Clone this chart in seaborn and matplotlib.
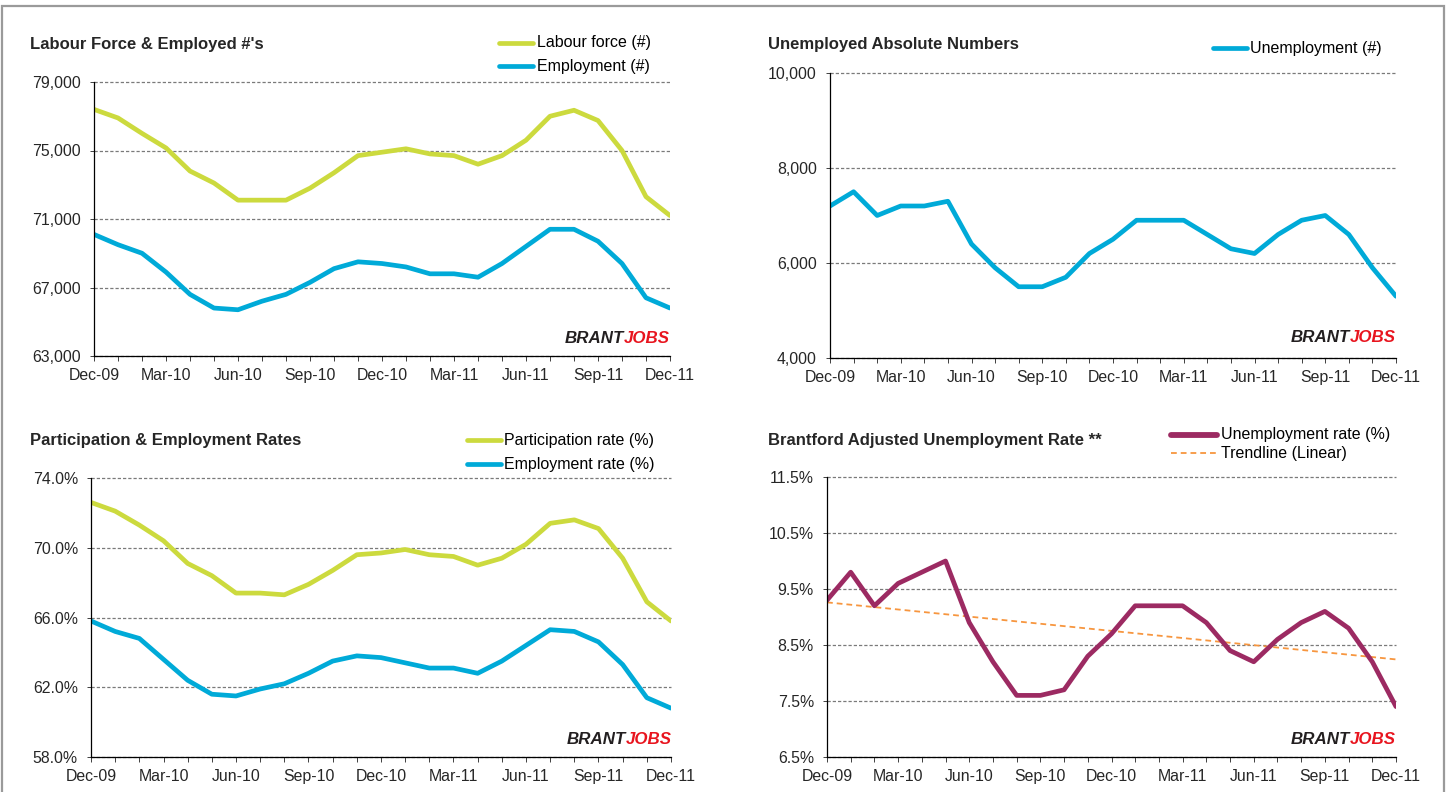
import numpy as np
import pandas as pd
import matplotlib
matplotlib.use("Agg")
import matplotlib.pyplot as plt
import matplotlib.ticker as mticker
from matplotlib.lines import Line2D
from matplotlib.patches import Rectangle
from matplotlib import font_manager as fm
import seaborn as sns

# ---------------- data ----------------
months = ["Dec-09", "Jan-10", "Feb-10", "Mar-10", "Apr-10", "May-10", "Jun-10",
          "Jul-10", "Aug-10", "Sep-10", "Oct-10", "Nov-10", "Dec-10", "Jan-11",
          "Feb-11", "Mar-11", "Apr-11", "May-11", "Jun-11", "Jul-11", "Aug-11",
          "Sep-11", "Oct-11", "Nov-11", "Dec-11"]

labour_force = [77400, 76900, 76000, 75150, 73800, 73100, 72100, 72100, 72100,
                72800, 73700, 74700, 74900, 75100, 74800, 74700, 74200, 74700,
                75600, 77000, 77350, 76750, 75000, 72300, 71200]
employment = [70100, 69500, 69000, 67900, 66600, 65800, 65700, 66200, 66600,
              67300, 68100, 68500, 68400, 68200, 67800, 67800, 67600, 68400,
              69400, 70400, 70400, 69700, 68400, 66400, 65800]

unemployment = [7200, 7500, 7000, 7200, 7200, 7300, 6400, 5900, 5500, 5500,
                5700, 6200, 6500, 6900, 6900, 6900, 6600, 6300, 6200, 6600,
                6900, 7000, 6600, 5900, 5300]

participation_rate = [72.6, 72.1, 71.3, 70.4, 69.1, 68.4, 67.4, 67.4, 67.3, 67.9,
                      68.7, 69.6, 69.7, 69.9, 69.6, 69.5, 69.0, 69.4, 70.2, 71.4,
                      71.6, 71.1, 69.4, 66.9, 65.8]
employment_rate = [65.8, 65.2, 64.8, 63.6, 62.4, 61.6, 61.5, 61.9, 62.2, 62.8,
                   63.5, 63.8, 63.7, 63.4, 63.1, 63.1, 62.8, 63.5, 64.4, 65.3,
                   65.2, 64.6, 63.3, 61.4, 60.8]

unemployment_rate = [9.3, 9.8, 9.2, 9.6, 9.8, 10.0, 8.9, 8.2, 7.6, 7.6, 7.7, 8.3,
                     8.7, 9.2, 9.2, 9.2, 8.9, 8.4, 8.2, 8.6, 8.9, 9.1, 8.8, 8.2, 7.4]

titles = ["Labour Force & Employed #'s", "Unemployed Absolute Numbers",
          "Participation & Employment Rates", "Brantford Adjusted Unemployment Rate **"]

# ---------------- style ----------------
sns.set_style("white")
plt.rcParams['font.family'] = ['Liberation Sans', 'DejaVu Sans']

GREEN = "#CCDA3E"
BLUE = "#00AAD8"
PLUM = "#9C2A62"
ORANGE = "#F7963F"
GRID = "#7a7a7a"

names = {f.name for f in fm.fontManager.ttflist}
LOGO_FAMILY = 'Liberation Sans Narrow' if 'Liberation Sans Narrow' in names else 'Liberation Sans'
LOGO_SIZE = 15 if LOGO_FAMILY == 'Liberation Sans Narrow' else 12.2

W, H = 1453, 792
fig = plt.figure(figsize=(W / 100, H / 100), dpi=100)
fig.patch.set_facecolor("white")

x_idx = np.arange(len(months))


def fx(px):
    return px / W


def fy(py):
    return 1 - py / H


def add_ax(x0, x1, y0, y1):
    return fig.add_axes([fx(x0), fy(y1), (x1 - x0) / W, (y1 - y0) / H])


def style_ax(ax, ylo, yhi, ystep, fmt):
    ax.set_xlim(0, len(months) - 1)
    ax.set_ylim(ylo, yhi)
    ax.set_xticks(x_idx[::3])
    ax.set_xticklabels(months[::3])
    ax.set_xticks(x_idx, minor=True)
    ax.set_yticks(np.arange(ylo, yhi + ystep / 2, ystep))
    ax.yaxis.set_major_formatter(fmt)
    ax.set_xlabel("")
    ax.set_ylabel("")
    for s in ["top", "right"]:
        ax.spines[s].set_visible(False)
    for s in ["left", "bottom"]:
        ax.spines[s].set_color("black")
        ax.spines[s].set_linewidth(0.9)
    ax.tick_params(axis="x", which="both", direction="out", length=3.6, width=0.7,
                   color="#404040", labelsize=11.4, pad=5, bottom=True)
    ax.tick_params(axis="y", which="major", direction="out", length=2.9, width=0.7,
                   color="#404040", labelsize=11.4, pad=6.5, left=True)
    ax.yaxis.grid(True, linestyle=(0, (2.6, 1.6)), color=GRID, linewidth=0.9)
    ax.xaxis.grid(False)
    ax.set_axisbelow(True)
    for gl in ax.yaxis.get_gridlines():
        gl.set_clip_on(False)
    ax.set_facecolor("none")


def legend_item(x0, x1, xt, y, color, label, lw=3.4, ls="-"):
    fig.add_artist(Line2D([fx(x0), fx(x1)], [fy(y), fy(y)], transform=fig.transFigure,
                          color=color, linewidth=lw, linestyle=ls,
                          solid_capstyle="round"))
    fig.text(fx(xt), fy(y), label, fontsize=11.5, va="center", ha="left", color="black")


def title(x, y, text):
    fig.text(fx(x), fy(y), text, fontsize=12, fontweight="bold", va="center", ha="left")


logos = []


def logo(xr, y):
    logos.append((xr, y))


def long_df(series):
    frames = []
    for name, vals in series:
        frames.append(pd.DataFrame({"idx": x_idx, "value": vals, "series": name}))
    return pd.concat(frames, ignore_index=True)


comma_fmt = mticker.FuncFormatter(lambda v, p: f"{v:,.0f}")
pct1_fmt = mticker.FuncFormatter(lambda v, p: f"{v:.1f}%")

# ---------------- panel 1 ----------------
ax1 = add_ax(94, 670, 82, 356)
df1 = long_df([("Labour force (#)", labour_force), ("Employment (#)", employment)])
sns.lineplot(data=df1, x="idx", y="value", hue="series",
             palette={"Labour force (#)": GREEN, "Employment (#)": BLUE},
             linewidth=3.4, legend=False, ax=ax1, sort=False)
style_ax(ax1, 63000, 79000, 4000, comma_fmt)
title(30, 44, titles[0])
legend_item(499, 533, 537, 43, GREEN, "Labour force (#)")
legend_item(499, 533, 537, 66, BLUE, "Employment (#)")
logo(670, 339)

# ---------------- panel 2 ----------------
ax2 = add_ax(830, 1396, 73, 358)
df2 = long_df([("Unemployment (#)", unemployment)])
sns.lineplot(data=df2, x="idx", y="value", hue="series",
             palette={"Unemployment (#)": BLUE},
             linewidth=3.4, legend=False, ax=ax2, sort=False)
style_ax(ax2, 4000, 10000, 2000, comma_fmt)
title(768, 44, titles[1])
legend_item(1213, 1247, 1250, 48, BLUE, "Unemployment (#)")
logo(1396, 338)

# ---------------- panel 3 ----------------
ax3 = add_ax(91, 671, 478, 757)
df3 = long_df([("Participation rate (%)", participation_rate),
               ("Employment rate (%)", employment_rate)])
sns.lineplot(data=df3, x="idx", y="value", hue="series",
             palette={"Participation rate (%)": GREEN, "Employment rate (%)": BLUE},
             linewidth=3.4, legend=False, ax=ax3, sort=False)
style_ax(ax3, 58, 74, 4, pct1_fmt)
title(30, 441, titles[2])
legend_item(467, 501, 504, 440, GREEN, "Participation rate (%)")
legend_item(467, 501, 504, 464, BLUE, "Employment rate (%)")
logo(672, 739)

# ---------------- panel 4 ----------------
ax4 = add_ax(827, 1396, 477, 757)
df4 = long_df([("Unemployment rate (%)", unemployment_rate)])
coef = np.polyfit(x_idx, unemployment_rate, 1)
trend = np.polyval(coef, x_idx)
sns.lineplot(x=x_idx, y=trend, color=ORANGE, linewidth=1.3, ax=ax4,
             linestyle=(0, (3.2, 2.2)))
sns.lineplot(data=df4, x="idx", y="value", hue="series",
             palette={"Unemployment rate (%)": PLUM},
             linewidth=3.4, legend=False, ax=ax4, sort=False)
style_ax(ax4, 6.5, 11.5, 1.0, pct1_fmt)
title(768, 441, titles[3])
legend_item(1171, 1217, 1221, 435, PLUM, "Unemployment rate (%)", lw=4.2)
legend_item(1171, 1217, 1221, 453, ORANGE, "Trendline (Linear)", lw=1.3, ls=(0, (3.2, 2.2)))
logo(1396, 739)

# ---------------- outer frame ----------------
fig.add_artist(Rectangle((fx(2), fy(830)), fx(1444) - fx(2), fy(6) - fy(830),
                         transform=fig.transFigure, fill=False,
                         edgecolor="#9a9a9a", linewidth=1.6, clip_on=False))

# ---------------- logos ----------------
fig.canvas.draw()
renderer = fig.canvas.get_renderer()
for xr, y in logos:
    t2 = fig.text(fx(xr), fy(y), "JOBS", fontsize=LOGO_SIZE, fontweight="bold",
                  fontstyle="italic", family=LOGO_FAMILY, color="#E8141E",
                  ha="right", va="center")
    bb = t2.get_window_extent(renderer=renderer)
    fig.text(bb.x0 / W, fy(y), "BRANT", fontsize=LOGO_SIZE, fontweight="bold",
             fontstyle="italic", family=LOGO_FAMILY, color="#231F20",
             ha="right", va="center")

fig.savefig("out.png", dpi=100, facecolor="white")
